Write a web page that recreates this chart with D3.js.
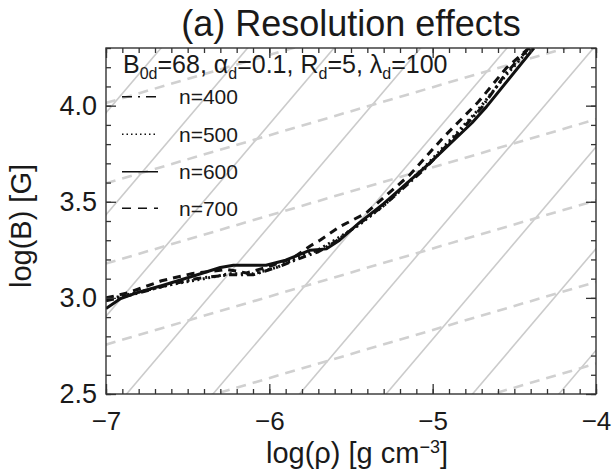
<!DOCTYPE html>
<html><head><meta charset="utf-8">
<script src="https://cdn.jsdelivr.net/npm/d3@7"></script>
<style>
html,body{margin:0;padding:0;background:#fff;}
svg text{font-family:"Liberation Sans",Arial,Helvetica,sans-serif;fill:#1a1a1a;}
</style></head>
<body><svg id="c" width="613" height="469"></svg>
<script>
// ---- data ----
const xTickValues = [-7, -6, -5, -4];
const yTickValues = [2.5, 3.0, 3.5, 4.0];
// gray solid guides: log B = log rho + c
const solidGuideC = [6.727, 7.256, 7.785, 8.315, 8.845, 9.374, 9.904, 10.433, 10.963];
const solidGuideSlope = 1.0;
// gray dashed guides: value of log B at log rho = -7, slope 0.25
const dashedGuideB = [1.908, 2.333, 2.757, 3.179, 3.596, 4.014];
const dashedGuideSlope = 0.25;

const seriesNames = ["n=400", "n=500", "n=600", "n=700"];
const rho400 = [-7.0, -6.85, -6.65, -6.45, -6.25, -6.1, -5.95, -5.8, -5.7, -5.6, -5.45, -5.3, -5.05, -4.85, -4.7, -4.55, -4.41];
const b400   = [2.985, 3.015, 3.06, 3.10, 3.12, 3.12, 3.16, 3.21, 3.24, 3.29, 3.385, 3.48, 3.67, 3.85, 3.99, 4.17, 4.30];
const rho500 = [-7.0, -6.85, -6.6, -6.4, -6.25, -6.1, -5.95, -5.8, -5.7, -5.6, -5.45, -5.3, -5.05, -4.85, -4.72, -4.55, -4.40];
const b500   = [2.99, 3.02, 3.07, 3.10, 3.125, 3.125, 3.16, 3.22, 3.25, 3.30, 3.38, 3.48, 3.68, 3.86, 3.98, 4.16, 4.30];
const rho600 = [-7.0, -6.91, -6.8, -6.65, -6.45, -6.30, -6.22, -6.02, -5.90, -5.75, -5.65, -5.57, -5.45, -5.30, -5.02, -4.76, -4.67, -4.38];
const b600   = [2.945, 2.997, 3.03, 3.066, 3.118, 3.158, 3.170, 3.170, 3.196, 3.248, 3.255, 3.30, 3.39, 3.49, 3.70, 3.91, 3.995, 4.30];
const rho700 = [-7.0, -6.87, -6.66, -6.47, -6.26, -6.14, -6.02, -5.86, -5.75, -5.69, -5.57, -5.41, -5.14, -4.94, -4.72, -4.55, -4.41];
const b700   = [3.0, 3.025, 3.089, 3.127, 3.148, 3.13, 3.158, 3.205, 3.27, 3.30, 3.37, 3.44, 3.64, 3.83, 4.02, 4.195, 4.30];

// ---- layout ----
const L = 106, R = 596, T = 48, B = 394;
const svg = d3.select("#c");
const x = d3.scaleLinear().domain([-7, -4]).range([L, R]);
const y = d3.scaleLinear().domain([2.5, 4.3]).range([B, T]);

svg.append("defs").append("clipPath").attr("id", "clip")
  .append("rect").attr("x", L).attr("y", T).attr("width", R - L).attr("height", B - T);

const gPlot = svg.append("g").attr("clip-path", "url(#clip)");

// guides
const gx0 = -7.6, gx1 = -3.4;
solidGuideC.forEach(c => {
  gPlot.append("line")
    .attr("x1", x(gx0)).attr("y1", y(gx0 * solidGuideSlope + c))
    .attr("x2", x(gx1)).attr("y2", y(gx1 * solidGuideSlope + c))
    .attr("stroke", "#cbcbcb").attr("stroke-width", 1.6);
});
dashedGuideB.forEach(b => {
  gPlot.append("line")
    .attr("x1", x(gx0)).attr("y1", y(b + dashedGuideSlope * (gx0 + 7)))
    .attr("x2", x(gx1)).attr("y2", y(b + dashedGuideSlope * (gx1 + 7)))
    .attr("stroke", "#d0d0d0").attr("stroke-width", 2.6)
    .attr("stroke-dasharray", "10,7");
});

// series
const series = [
  {name: seriesNames[0], xs: rho400, ys: b400, dash: "8,4,2,4", leg: "10,6,2,6"},
  {name: seriesNames[1], xs: rho500, ys: b500, dash: "2,3.5", leg: "1.5,3"},
  {name: seriesNames[2], xs: rho600, ys: b600, dash: null, leg: null},
  {name: seriesNames[3], xs: rho700, ys: b700, dash: "8,6", leg: "9,7"}
];
const line = d3.line().x(d => x(d[0])).y(d => y(d[1]));
series.forEach(s => {
  const pts = s.xs.map((v, i) => [v, s.ys[i]]);
  gPlot.append("path").attr("d", line(pts))
    .attr("fill", "none").attr("stroke", "#111").attr("stroke-width", 3)
    .attr("stroke-linejoin", "round")
    .attr("stroke-dasharray", s.dash);
});

// axes (ticks inward)
const xMinor = d3.range(-7, -3.99, 0.1);
const yMinor = d3.range(2.5, 4.301, 0.1);
function styleAxis(g) {
  g.select(".domain").remove();
  g.selectAll("line").attr("stroke", "#333").attr("stroke-width", 1.3);
  g.selectAll("text").attr("fill", "#1a1a1a");
}
const fmtX = d3.format("d"), fmtY = d3.format(".1f");
svg.append("g").attr("transform", `translate(0,${B})`)
  .call(d3.axisBottom(x).tickValues(xMinor).tickSize(-5).tickFormat("")).call(styleAxis);
svg.append("g").attr("transform", `translate(0,${B})`)
  .call(d3.axisBottom(x).tickValues(xTickValues).tickSize(-10).tickPadding(18).tickFormat(fmtX))
  .call(styleAxis).selectAll("text").style("font-size", "26px");
svg.append("g").attr("transform", `translate(0,${T})`)
  .call(d3.axisTop(x).tickValues(xMinor).tickSize(-5).tickFormat("")).call(styleAxis);
svg.append("g").attr("transform", `translate(0,${T})`)
  .call(d3.axisTop(x).tickValues(xTickValues).tickSize(-10).tickFormat("")).call(styleAxis);
svg.append("g").attr("transform", `translate(${L},0)`)
  .call(d3.axisLeft(y).tickValues(yMinor).tickSize(-5).tickFormat("")).call(styleAxis);
svg.append("g").attr("transform", `translate(${L},0)`)
  .call(d3.axisLeft(y).tickValues(yTickValues).tickSize(-10).tickPadding(9).tickFormat(fmtY))
  .call(styleAxis).selectAll("text").style("font-size", "27px");
svg.append("g").attr("transform", `translate(${R},0)`)
  .call(d3.axisRight(y).tickValues(yMinor).tickSize(-5).tickFormat("")).call(styleAxis);
svg.append("g").attr("transform", `translate(${R},0)`)
  .call(d3.axisRight(y).tickValues(yTickValues).tickSize(-10).tickFormat("")).call(styleAxis);

svg.append("rect").attr("x", L).attr("y", T).attr("width", R - L).attr("height", B - T)
  .attr("fill", "none").attr("stroke", "#333").attr("stroke-width", 1.4);

// title & axis titles
svg.append("text").attr("x", (L + R) / 2).attr("y", 36).attr("text-anchor", "middle")
  .style("font-size", "36px").text("(a) Resolution effects");
const xt = svg.append("text").attr("x", 357).attr("y", 463).attr("text-anchor", "middle").style("font-size", "29px");
xt.append("tspan").text("log(ρ) [g cm");
xt.append("tspan").attr("dy", -10).style("font-size", "18px").text("−3");
xt.append("tspan").attr("dy", 10).text("]");
svg.append("text").attr("transform", "translate(31,226) rotate(-90)").attr("text-anchor", "middle")
  .style("font-size", "29px").text("log(B) [G]");

// legend header
const hd = svg.append("text").attr("x", 123).attr("y", 73).style("font-size", "25px");
const parts = [["B",0],["0d",1],["=68, α",0],["d",1],["=0.1, R",0],["d",1],["=5, λ",0],["d",1],["=100",0]];
let prevSub = 0;
parts.forEach(([t, sub]) => {
  const ts = hd.append("tspan").text(t);
  if (sub) ts.style("font-size", "16px");
  const dy = (sub - prevSub) * 6;
  if (dy) ts.attr("dy", dy);
  prevSub = sub;
});

// legend entries
const legY = [96.7, 134.3, 171.7, 208.3];
series.forEach((s, i) => {
  svg.append("line").attr("x1", 122).attr("x2", 158).attr("y1", legY[i]).attr("y2", legY[i])
    .attr("stroke", "#111").attr("stroke-width", 1.5).attr("stroke-dasharray", s.leg);
  svg.append("text").attr("x", 179).attr("y", legY[i] + 7.5).style("font-size", "21px").text(s.name);
});
</script></body></html>
